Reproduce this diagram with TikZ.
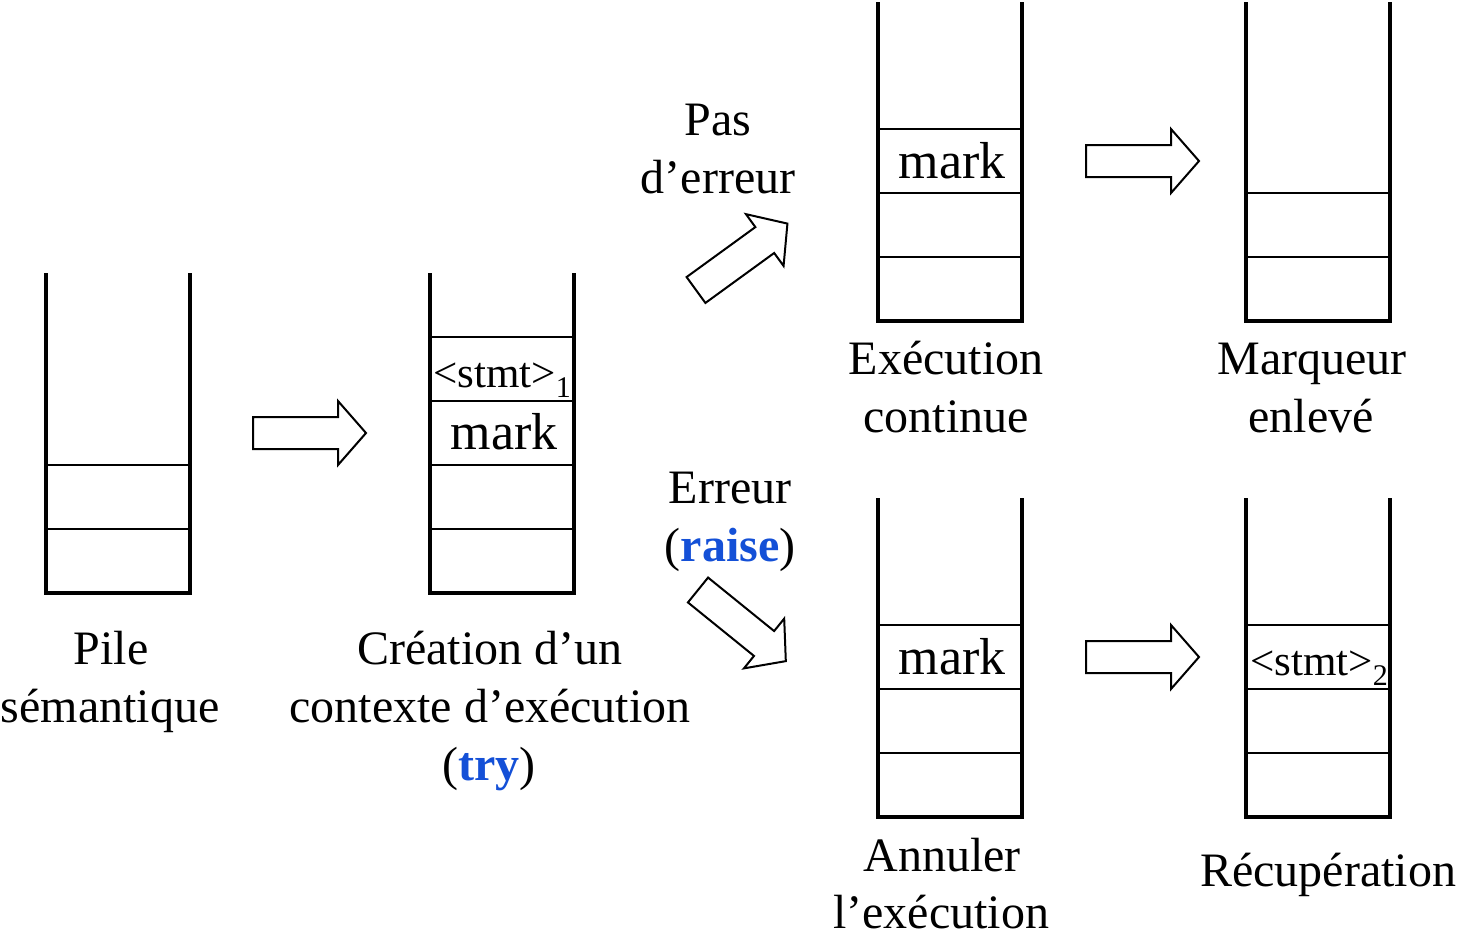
\documentclass[tikz,border=0pt]{standalone}
\usepackage{fontspec}
\setmainfont{Liberation Serif}
\definecolor{kwblue}{RGB}{20,80,215}
\begin{document}
\begin{tikzpicture}[x=0.5pt,y=-0.5pt,
  wall/.style={line width=2pt, line join=miter},
  cell/.style={line width=0.7pt},
  blockarrow/.style={draw, line width=1pt, fill=white, line join=miter},
  lbl/.style={anchor=base, inner sep=0pt, font=\fontsize{24}{29}\selectfont},
  marktxt/.style={anchor=base, inner sep=0pt, font=\fontsize{26}{30}\selectfont},
  stmttxt/.style={anchor=base west, inner sep=0pt, font=\fontsize{21.5}{25}\selectfont},
  fatarrow/.pic={\draw[blockarrow] (0,-16) -- (85,-16) -- (85,-32) -- (113,0) -- (85,32) -- (85,16) -- (0,16) -- cycle;}
]
\useasboundingbox (0,0) rectangle (1461,933);

% ---------- stack 1: Pile semantique
\foreach \y in {465,529} \draw[cell] (46,\y) -- (190,\y);
\draw[wall] (46,273) -- (46,593) -- (190,593) -- (190,273);

% ---------- stack 2: try
\foreach \y in {337,401,465,529} \draw[cell] (430,\y) -- (574,\y);
\draw[wall] (430,273) -- (430,593) -- (574,593) -- (574,273);
\node[stmttxt] (s1) at (433,387) {<stmt>\raisebox{-5pt}{\fontsize{15}{15}\selectfont 1}};
\node[marktxt] (m1) at (504,449) {mark};

% ---------- stack 3: execution continue
\foreach \y in {129,193,257} \draw[cell] (878,\y) -- (1022,\y);
\draw[wall] (878,2) -- (878,321) -- (1022,321) -- (1022,2);
\node[marktxt] (m2) at (952,178) {mark};

% ---------- stack 4: marqueur enleve
\foreach \y in {193,257} \draw[cell] (1246,\y) -- (1390,\y);
\draw[wall] (1246,2) -- (1246,321) -- (1390,321) -- (1390,2);

% ---------- stack 5: annuler
\foreach \y in {625,689,753} \draw[cell] (878,\y) -- (1022,\y);
\draw[wall] (878,498) -- (878,817) -- (1022,817) -- (1022,498);
\node[marktxt] (m3) at (952,674) {mark};

% ---------- stack 6: recuperation
\foreach \y in {625,689,753} \draw[cell] (1246,\y) -- (1390,\y);
\draw[wall] (1246,498) -- (1246,817) -- (1390,817) -- (1390,498);
\node[stmttxt] (s2) at (1250,675) {<stmt>\raisebox{-5pt}{\fontsize{15}{15}\selectfont 2}};

% ---------- arrows
\pic at (253,433) {fatarrow};
\pic at (1086,161) {fatarrow};
\pic at (1086,657) {fatarrow};
\pic[rotate=36] at (696,290) {fatarrow};
\pic[rotate=-39] at (698,590) {fatarrow};

% ---------- labels
\node[lbl] (l1a) at (111,664) {Pile};
\node[lbl] (l1b) at (110,722) {sémantique};

\node[lbl] (l2a) at (490,664) {Création d’un};
\node[lbl] (l2b) at (490,722) {contexte d’exécution};
\node[lbl] (l2c) at (489,780) {(\textcolor{kwblue}{\bfseries try})};

\node[lbl] (l3a) at (718,135) {Pas};
\node[lbl] (l3b) at (718,193) {d’erreur};

\node[lbl] (l4a) at (730,503) {Erreur};
\node[lbl] (l4b) at (730,561) {(\textcolor{kwblue}{\bfseries raise})};

\node[lbl] (l5a) at (946,374) {Exécution};
\node[lbl] (l5b) at (946,432) {continue};

\node[lbl] (l6a) at (1312,374) {Marqueur};
\node[lbl] (l6b) at (1311,432) {enlevé};

\node[lbl] (l7a) at (942,871) {Annuler};
\node[lbl] (l7b) at (941,928) {l’exécution};

\node[lbl] (l8) at (1328,886) {Récupération};
\end{tikzpicture}
\end{document}
